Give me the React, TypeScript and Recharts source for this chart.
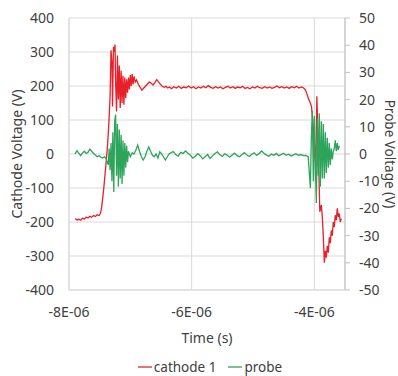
import { LineChart, Line, XAxis, YAxis, CartesianGrid, Legend, Label } from 'recharts'

document.body.style.margin = '0'

// time in microseconds (axis shows them as E-06)
const cathodeTime = [
  -7.9, -7.87, -7.84, -7.81, -7.78, -7.75, -7.72, -7.69, -7.66, -7.63, -7.6, -7.57, -7.54, -7.51,
  -7.49, -7.47, -7.45, -7.43, -7.41, -7.39, -7.37, -7.35, -7.33, -7.315, -7.3, -7.29, -7.275, -7.26,
  -7.25, -7.24, -7.225, -7.21, -7.195, -7.18, -7.165, -7.15, -7.135, -7.12, -7.105, -7.09, -7.075,
  -7.06, -7.045, -7.03, -7.015, -7.0, -6.985, -6.97, -6.955, -6.94, -6.92, -6.9, -6.87, -6.84, -6.81,
  -6.78, -6.75, -6.72, -6.69, -6.66, -6.63, -6.6, -6.57, -6.54, -6.51, -6.48, -6.45, -6.42, -6.39,
  -6.36, -6.33, -6.29, -6.25, -6.21, -6.17, -6.13, -6.09, -6.05, -6.01, -5.97, -5.93, -5.89, -5.85,
  -5.81, -5.77, -5.73, -5.69, -5.65, -5.61, -5.57, -5.53, -5.49, -5.45, -5.41, -5.37, -5.33, -5.29,
  -5.25, -5.21, -5.17, -5.13, -5.09, -5.05, -5.01, -4.97, -4.93, -4.89, -4.85, -4.81, -4.77, -4.73,
  -4.69, -4.65, -4.61, -4.57, -4.53, -4.49, -4.45, -4.41, -4.37, -4.33, -4.29, -4.25, -4.21, -4.18,
  -4.15, -4.13, -4.1, -4.065, -4.045, -4.033, -4.0, -3.976, -3.959, -3.935, -3.911, -3.886, -3.87,
  -3.854, -3.837, -3.821, -3.805, -3.789, -3.772, -3.756, -3.74, -3.724, -3.707, -3.691, -3.675,
  -3.659, -3.642, -3.626, -3.61, -3.593, -3.577, -3.561,
]
const cathodeVolts = [
  -190, -194, -192, -195, -189, -191, -186, -188, -183, -186, -181, -184, -179, -181,
  -176, -160, -130, -95, -55, -15, 30, 90, 170, 305, 270, 140, 315, 300,
  322, 210, 125, 290, 160, 260, 135, 245, 150, 230, 145, 225, 165,
  220, 180, 225, 190, 232, 200, 235, 205, 228, 212, 218, 205, 196, 188,
  194, 200, 206, 212, 208, 203, 210, 219, 212, 205, 199, 196, 199, 194,
  197, 192, 198, 194, 199, 193, 197, 195, 200, 194, 198, 192, 197, 194,
  199, 195, 201, 196, 193, 198, 194, 197, 192, 196, 199, 194, 198, 193,
  197, 195, 199, 193, 196, 192, 197, 194, 199, 195, 193, 198, 194, 197,
  193, 196, 200, 195, 198, 194, 197, 193, 198, 195, 199, 194, 197, 195,
  190, 182, 165, 150, 138, 110, 40, -40, 170, 20, -170, -150, -185,
  -240, -320, -285, -305, -270, -290, -245, -262, -225, -240, -200, -215,
  -180, -195, -160, -185, -175, -200, -190,
]

const probeTime = [
  -7.9, -7.87, -7.84, -7.81, -7.78, -7.75, -7.72, -7.69, -7.66, -7.63, -7.6, -7.57, -7.54, -7.51,
  -7.48, -7.45, -7.42, -7.39, -7.36, -7.345, -7.33, -7.315, -7.3, -7.285, -7.27, -7.255, -7.24,
  -7.225, -7.21, -7.195, -7.18, -7.165, -7.15, -7.135, -7.12, -7.105, -7.09, -7.075, -7.06, -7.045,
  -7.03, -7.0, -6.97, -6.94, -6.91, -6.88, -6.85, -6.82, -6.79, -6.76, -6.73, -6.7, -6.67, -6.64,
  -6.61, -6.58, -6.55, -6.52, -6.49, -6.46, -6.43, -6.4, -6.37, -6.34, -6.3, -6.26, -6.22, -6.18,
  -6.14, -6.1, -6.06, -6.02, -5.98, -5.94, -5.9, -5.86, -5.82, -5.78, -5.74, -5.7, -5.66, -5.62,
  -5.58, -5.54, -5.5, -5.46, -5.42, -5.38, -5.34, -5.3, -5.26, -5.22, -5.18, -5.14, -5.1, -5.06,
  -5.02, -4.98, -4.94, -4.9, -4.86, -4.82, -4.78, -4.74, -4.7, -4.66, -4.62, -4.58, -4.54, -4.5,
  -4.46, -4.42, -4.38, -4.34, -4.3, -4.26, -4.22, -4.18, -4.14, -4.1, -4.065, -4.049, -4.033,
  -4.016, -4.0, -3.984, -3.967, -3.951, -3.935, -3.919, -3.902, -3.886, -3.87, -3.854, -3.837,
  -3.821, -3.805, -3.789, -3.772, -3.756, -3.74, -3.724, -3.707, -3.691, -3.675, -3.659, -3.642,
  -3.626, -3.61, -3.593, -3.577, -3.561,
]
const probeVolts = [
  0, 1.2, 0.3, -0.6, 0.4, 1.0, 0.2, 0.6, 1.8, 1.0, 0.2, -0.4, -1.0, -0.6,
  -1.2, -1.5, -1.0, -2.0, -4.0, 2, -6, 4, -10, 8, -14, 12, 14.5,
  -8, 11, -12, 9, -9, 7, -11, 5, -8, 4, -5, 3, -3,
  1, -1, 0.5, 0, 1.5, 3.3, 1, -1, -2.2, -1, 1, 2.6, 1, -0.5,
  -1, 0, -1.5, 0.8, 0, -1, -2.2, -1.2, 0, 0.4, 0.9, -0.2, -0.8, 0.6,
  0.2, 1.1, 0.3, -0.5, -1.5, -0.8, 0.1, -0.6, -1.8, -1.0, -0.2, -1.6, -0.7, 0.2,
  0.8, -0.3, -0.9, 0.1, -0.5, -1.2, -0.4, 0.3, -0.6, -1.0, -0.2, 0.5, -0.4, -0.9,
  -0.1, 0.4, -0.5, 0.2, 1.1, 0.3, -0.4, -0.8, 0.0, -0.5, 0.2, -0.6,
  -0.2, 0.3, -0.5, -0.1, -0.7, -0.3, 0.1, -0.5, -0.2, -0.6, -0.5, -1, -12.5,
  6, 16, -10, 14, -5, -18, 13, -8, 15, -12, 12, -9,
  11, -9, 8, -7, 6, -5, 4, -4, 2, -2, 1, 2,
  5, 1, 4, 1.5, 3,
]

const voltTicks = [-400, -300, -200, -100, 0, 100, 200, 300, 400]
const probeTicks = [-50, -40, -30, -20, -10, 0, 10, 20, 30, 40, 50]
const timeTicks = [-8, -6, -4]

const seriesNames = ['cathode 1', 'probe']
const seriesColors = ['#e8202a', '#2ca55a']

const cathodeData = cathodeTime.map((t, i) => ({ t, v: cathodeVolts[i] }))
const probeData = probeTime.map((t, i) => ({ t, v: probeVolts[i] }))

const FONT = '"Noto Sans", "Open Sans", sans-serif'
const TEXT = '#404040'
const GRID = '#d9d9d9'

function LegendContent() {
  return (
    <div
      style={{
        display: 'flex',
        justifyContent: 'center',
        gap: 12,
        height: 18,
        alignItems: 'center',
        paddingLeft: 22,
      }}
    >
      {seriesNames.map((name, i) => (
        <span key={name} style={{ display: 'flex', alignItems: 'center', fontSize: 13.5, color: TEXT }}>
          <svg width={14} height={10} style={{ marginRight: 2 }}>
            <line x1={0} y1={5} x2={14} y2={5} stroke={seriesColors[i]} strokeWidth={1.3} />
          </svg>
          {name}
        </span>
      ))}
    </div>
  )
}

export default function App() {
  return (
    <LineChart
      width={398}
      height={376}
      margin={{ top: 18, right: 0, left: 0, bottom: 0 }}
      style={{ fontFamily: FONT }}
    >
      <CartesianGrid stroke={GRID} horizontalValues={voltTicks} yAxisId="left" />
      <XAxis
        dataKey="t"
        type="number"
        domain={[-8, -3.5]}
        ticks={timeTicks}
        allowDataOverflow
        tickFormatter={(v: number) => `${v}E-06`}
        tick={{ fill: TEXT, fontSize: 14 }}
        tickLine={false}
        tickSize={0}
        tickMargin={17}
        axisLine={{ stroke: GRID }}
        height={68}
      >
        <Label value="Time (s)" position="insideBottom" offset={15} style={{ fill: TEXT, fontSize: 14 }} />
      </XAxis>
      <YAxis
        yAxisId="left"
        domain={[-400, 400]}
        ticks={voltTicks}
        tick={{ fill: TEXT, fontSize: 14 }}
        tickLine={false}
        tickSize={0}
        tickMargin={15}
        axisLine={{ stroke: GRID }}
        width={69}
      >
        <Label
          value="Cathode Voltage (V)"
          angle={-90}
          position="insideLeft"
          offset={17}
          style={{ fill: TEXT, fontSize: 14, textAnchor: 'middle' }}
        />
      </YAxis>
      <YAxis
        yAxisId="right"
        orientation="right"
        domain={[-50, 50]}
        ticks={probeTicks}
        tick={{ fill: TEXT, fontSize: 14 }}
        tickLine={{ stroke: '#bfbfbf' }}
        tickSize={5}
        tickMargin={9}
        axisLine={{ stroke: '#bfbfbf' }}
        width={53}
      >
        <Label
          value="Probe Voltage (V)"
          angle={90}
          position="insideRight"
          offset={8}
          style={{ fill: TEXT, fontSize: 13.5, textAnchor: 'middle' }}
        />
      </YAxis>
      <Legend verticalAlign="bottom" content={<LegendContent />} />
      <Line
        yAxisId="left"
        data={cathodeData}
        dataKey="v"
        name={seriesNames[0]}
        stroke={seriesColors[0]}
        strokeWidth={1.3}
        dot={false}
        isAnimationActive={false}
      />
      <Line
        yAxisId="right"
        data={probeData}
        dataKey="v"
        name={seriesNames[1]}
        stroke={seriesColors[1]}
        strokeWidth={1.3}
        dot={false}
        isAnimationActive={false}
      />
    </LineChart>
  )
}
